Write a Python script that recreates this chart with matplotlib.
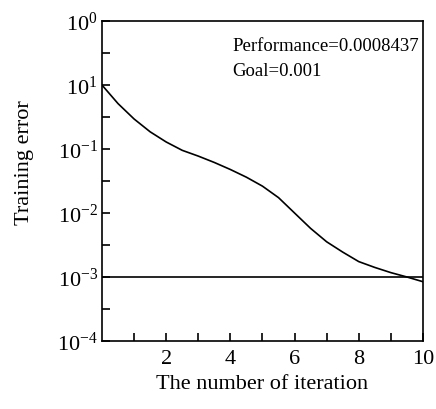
import numpy as np
import matplotlib
matplotlib.use("Agg")
import matplotlib.pyplot as plt
from matplotlib.ticker import FixedLocator, FixedFormatter

plt.rcParams['font.family'] = ['Liberation Serif', 'DejaVu Serif']
plt.rcParams['mathtext.fontset'] = 'custom'
plt.rcParams['mathtext.rm'] = 'Liberation Serif'
plt.rcParams['mathtext.it'] = 'Liberation Serif:italic'

# training curve
iteracao = [0, 0.5, 1, 1.5, 2, 2.5, 3, 3.5, 4, 4.5, 5, 5.5, 6, 6.5, 7, 7.5, 8, 8.5, 9, 9.5, 10]
erro = [1.0, 0.513, 0.295, 0.186, 0.129, 0.0955, 0.0776, 0.0617, 0.0479, 0.0363, 0.0263,
        0.0174, 0.0100, 0.00575, 0.00355, 0.00245, 0.00174, 0.00141, 0.00117, 0.00100, 0.0008437]
meta = 0.001
performance = 0.0008437

# y tick labels exactly as printed in the figure
y_ticks = [1e-4, 1e-3, 1e-2, 1e-1, 1e0, 1e1]
y_labels = ['$10^{-4}$', '$10^{-3}$', '$10^{-2}$', '$10^{-1}$', '$10^{1}$', '$10^{0}$']
x_ticks = [2, 4, 6, 8, 10]

fig = plt.figure(figsize=(4.36, 4.10), dpi=100)
ax = fig.add_axes([0.234, 0.166, 0.736, 0.780])

ax.plot(iteracao, erro, color='black', lw=1.2)
ax.plot([0, 10], [meta, meta], color='black', lw=1.2)

ax.set_yscale('log')
ax.set_xlim(0, 10)
ax.set_ylim(1e-4, 1e1)

ax.yaxis.set_major_locator(FixedLocator(y_ticks))
ax.yaxis.set_major_formatter(FixedFormatter(y_labels))
ax.yaxis.set_minor_locator(FixedLocator([10 ** (k + 0.5) for k in range(-4, 1)]))
ax.yaxis.set_minor_formatter(FixedFormatter([]))
ax.xaxis.set_major_locator(FixedLocator(x_ticks))
ax.xaxis.set_minor_locator(FixedLocator([1, 3, 5, 7, 9]))

ax.tick_params(which='both', direction='in', length=6, width=1.2, top=False, right=False,
               labelsize=16)
ax.tick_params(axis='x', pad=6)
ax.tick_params(axis='y', pad=3)
for s in ax.spines.values():
    s.set_linewidth(1.2)

ax.set_xlabel('The number of iteration', fontsize=16, labelpad=4)
ax.set_ylabel('Training error', fontsize=16)
ax.yaxis.set_label_coords(-0.213, 0.56)

ax.text(0.405, 0.924, 'Performance=%.7f' % performance, transform=ax.transAxes, fontsize=13.5,
        va='center')
ax.text(0.405, 0.847, 'Goal=%g' % meta, transform=ax.transAxes, fontsize=13.5, va='center')

fig.savefig('out.png', dpi=100)
